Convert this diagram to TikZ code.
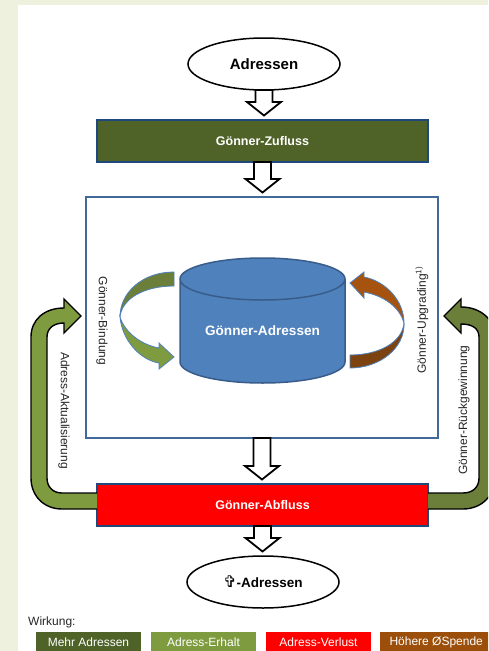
\documentclass[tikz,border=0pt]{standalone}
\usepackage{fontspec}
\setmainfont{Liberation Sans}
\newfontfamily\crossfont{DejaVu Sans}
\usetikzlibrary{shapes.geometric,calc}
\definecolor{rahmen}{HTML}{EDF1DE}
\definecolor{dunkelgruen}{HTML}{4F6228}
\definecolor{hellgruen}{HTML}{7F9B3F}
\definecolor{mittelgruen}{HTML}{6B7F3B}
\definecolor{braun}{HTML}{A5530F}
\definecolor{dunkelbraun}{HTML}{7C4210}
\definecolor{legendbraun}{HTML}{9C4F0A}
\definecolor{boxblau}{HTML}{1F497D}
\definecolor{feldblau}{HTML}{41699A}
\definecolor{zylinder}{HTML}{4F81BD}
\definecolor{zylinderrand}{HTML}{385D8A}
\tikzset{
  adressoval/.style={ellipse,draw=black,line width=1.5pt,fill=white,minimum width=152pt,minimum height=52pt,inner sep=0pt,outer sep=0pt,font=\bfseries\fontsize{15}{15}\selectfont},
  flussbox/.style={draw=boxblau,line width=2pt,minimum width=331pt,minimum height=42pt,inner sep=0pt,outer sep=0pt,text=white,font=\bfseries\fontsize{12.5}{14}\selectfont},
  blockarrow/.style={line width=1.8pt,draw=black,fill=white,to path={let \p1=(\tikztostart),\p2=(\tikztotarget) in (\x1-8.5pt,\y1) -- (\x1-8.5pt,\y2+18pt) -- (\x1-17pt,\y2+18pt) -- (\x1,\y2+4.5pt) -- (\x1+17pt,\y2+18pt) -- (\x1+8.5pt,\y2+18pt) -- (\x1+8.5pt,\y1) -- cycle}},
  bogenarrow/.style={draw=zylinder,line width=.8pt},
  seitenarrow/.style={draw=black,line width=1.4pt},
  sidelabel/.style={font=\fontsize{12}{14}\selectfont,text=black!85,inner sep=0pt},
  legendbox/.style={minimum width=105pt,minimum height=21pt,inner sep=0pt,outer sep=0pt,text=white,font=\fontsize{12}{14}\selectfont}
}
\begin{document}
\begin{tikzpicture}[x=1pt,y=-1pt]
\useasboundingbox (0,0) rectangle (488,651);
\fill[rahmen] (0,0) rectangle (488,651);
\fill[white] (18,5) rectangle (488,651);
\clip (0,0) rectangle (488,651);

\node[adressoval] (adressen) at (264,64) {Adressen};
\node[flussbox,fill=dunkelgruen] (zufluss) at (262.5,141) {Gönner-Zufluss};
\node[draw=feldblau,line width=2pt,minimum width=352pt,minimum height=241pt,inner sep=0pt,outer sep=0pt] (feld) at (262,317.5) {};
\node[flussbox,fill=red] (abfluss) at (262.5,505) {Gönner-Abfluss};
\node[adressoval,font=\bfseries\fontsize{13.5}{15}\selectfont] (verlust) at (263,582) {{\crossfont\fontsize{16}{16}\selectfont ✞}-Adressen};

\draw[blockarrow] (adressen.south) to (zufluss.north);
\draw[blockarrow] (zufluss.south) to (feld.north);
\draw[blockarrow] (feld.south) to (abfluss.north);
\draw[blockarrow] (abfluss.south) to (verlust.north);

\draw[fill=zylinder,draw=zylinderrand,line width=1.5pt] (180,279) -- (180,362) arc[start angle=180,end angle=360,x radius=82.5pt,y radius=21pt] -- (345,279) arc[start angle=0,end angle=180,x radius=82.5pt,y radius=21pt] arc[start angle=180,end angle=360,x radius=82.5pt,y radius=21pt];
\node[text=white,font=\bfseries\fontsize{13.6}{15}\selectfont,inner sep=0pt] (bestand) at (262.5,331) {Gönner-Adressen};

\draw[bogenarrow,fill=mittelgruen] (174,272) .. controls (143,272) and (120,292) .. (120,317) .. controls (122,298) and (145,286) .. (174,286) -- cycle;
\draw[bogenarrow,fill=hellgruen] (120,317) .. controls (122,340) and (140,360) .. (159,363) -- (159,369) -- (174,357) -- (159,343) -- (159,348) .. controls (142,345) and (125,333) .. (120,317) -- cycle;
\draw[bogenarrow,fill=braun] (350,283) -- (364,272) -- (364,277) .. controls (385,281) and (404,300) .. (404,323) .. controls (400,308) and (385,296) .. (364,292) -- (364,298) -- cycle;
\draw[bogenarrow,fill=dunkelbraun] (350,355) .. controls (378,355) and (402,343) .. (404,323) .. controls (405,348) and (380,368) .. (350,368) -- cycle;

\coordinate (aktualtip) at (81,316);
\coordinate (rueckgewinntip) at (444,316);
\fill[hellgruen] ($(abfluss.west)+(0,-12)$) -- (62,493) .. controls (53,493) and (47,487) .. (47,478) -- (47,337) .. controls (47,329) and (53,323) .. (64,323) -- (64,333) -- (aktualtip) -- (64,299) -- (64,308) .. controls (44,308) and (31,320) .. (31,337) -- (31,478) .. controls (31,496) and (44,509) .. (62,509) -- ($(abfluss.west)+(0,4)$);
\draw[seitenarrow] ($(abfluss.west)+(0,-12)$) -- (62,493) .. controls (53,493) and (47,487) .. (47,478) -- (47,337) .. controls (47,329) and (53,323) .. (64,323) -- (64,333) -- (aktualtip) -- (64,299) -- (64,308) .. controls (44,308) and (31,320) .. (31,337) -- (31,478) .. controls (31,496) and (44,509) .. (62,509) -- ($(abfluss.west)+(0,4)$);
\fill[mittelgruen] ($(abfluss.east)+(0,-12)$) -- (463,493) .. controls (473,493) and (479,487) .. (479,478) -- (479,337) .. controls (479,329) and (473,324) .. (461,324) -- (461,333) -- (rueckgewinntip) -- (461,299) -- (461,307) .. controls (481,307) and (495,320) .. (495,337) -- (495,478) .. controls (495,496) and (481,509) .. (463,509) -- ($(abfluss.east)+(0,4)$);
\draw[seitenarrow] ($(abfluss.east)+(0,-12)$) -- (463,493) .. controls (473,493) and (479,487) .. (479,478) -- (479,337) .. controls (479,329) and (473,324) .. (461,324) -- (461,333) -- (rueckgewinntip) -- (461,299) -- (461,307) .. controls (481,307) and (495,320) .. (495,337) -- (495,478) .. controls (495,496) and (481,509) .. (463,509) -- ($(abfluss.east)+(0,4)$);

\node[sidelabel,rotate=-90] (bindung) at (102,321) {Gönner-Bindung};
\node[sidelabel,rotate=-90] (aktual) at (64,410.5) {Adress-Aktualisierung};
\node[sidelabel,rotate=90] (upgrading) at (422,320) {Gönner-Upgrading\textsuperscript{1)}};
\node[sidelabel,rotate=90] (rueckgewinn) at (464,410) {Gönner-Rückgewinnung};

\node[sidelabel,anchor=west] (wirkung) at (28,622) {Wirkung:};
\node[legendbox,fill=dunkelgruen] (mehr) at (88.5,642) {Mehr Adressen};
\node[legendbox,fill=hellgruen] (erhalt) at (203.5,642) {Adress-Erhalt};
\node[legendbox,fill=red] (adressverlust) at (318.5,642) {Adress-Verlust};
\node[legendbox,fill=legendbraun,minimum width=0pt,inner xsep=9.5pt,anchor=west] (spende) at (380,642) {Höhere ØSpende};
\end{tikzpicture}
\end{document}
